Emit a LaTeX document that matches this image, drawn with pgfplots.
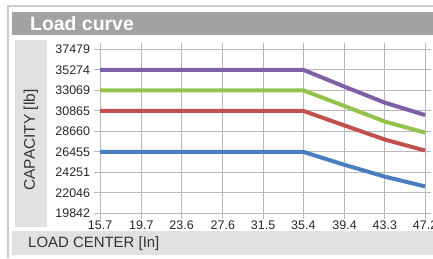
\documentclass[border=0pt]{standalone}
\usepackage{pgfplots}
\pgfplotsset{compat=1.18}
\usepackage{fontspec}
\setmainfont{Liberation Sans}
\definecolor{cpurple}{HTML}{7E60A8}
\definecolor{cgreen}{HTML}{93C14C}
\definecolor{cred}{HTML}{C2504D}
\definecolor{cblue}{HTML}{4A7EC0}
\definecolor{titlegray}{HTML}{A2A2A2}
\definecolor{panelgray}{HTML}{E1E1E1}
\definecolor{gridgray}{HTML}{B8B8B8}
\begin{document}
\begin{tikzpicture}[x=1bp,y=1bp]
\useasboundingbox (0,0) rectangle (433,258);
% outer frame
\draw[gray!40, line width=1.5bp] (8,0) -- (8,252) -- (433,252);
% title bar
\fill[titlegray] (12,223) rectangle (433,246);
\node[anchor=west, text=white, font=\bfseries\fontsize{19.5}{20}\selectfont, inner sep=0pt] at (30,234.5) {Load curve};
% left panel
\fill[panelgray] (15,31) rectangle (47,218);
\node[rotate=90, font=\fontsize{15.5}{16}\selectfont, text=black!80] at (31,118) {CAPACITY [lb]};
% bottom panel
\fill[panelgray] (12,3) rectangle (433,27);
\node[anchor=west, font=\fontsize{15}{16}\selectfont, text=black!80, inner sep=0pt] at (28,14.5) {LOAD CENTER [In]};
\begin{axis}[
  at={(97,48)}, anchor=south west,
  scale only axis, width=325bp, height=164bp,
  xmin=15.7, xmax=47.2, ymin=19842, ymax=37479,
  xtick={15.7,19.7,23.6,27.6,31.5,35.4,39.4,43.3,47.2},
  xticklabels={15.7,19.7,23.6,27.6,31.5,35.4,39.4,43.3,47.2},
  ytick={19842,22046,24251,26455,28660,30865,33069,35274,37479},
  yticklabels={19842,22046,24251,26455,28660,30865,33069,35274,37479},
  scaled ticks=false,
  grid=major,
  grid style={gridgray, line width=0.8bp},
  axis line style={gridgray, line width=0.8bp},
  tick style={gridgray, line width=0.8bp},
  tick align=outside,
  major tick length=6bp,
  ticklabel style={font=\fontsize{12.5}{13}\selectfont, text=black!85},
  xticklabel style={yshift=2bp},
  yticklabel style={xshift=-0.5bp},
  clip=false,
]
\addplot[cblue, line width=4bp, line join=round] coordinates {(15.7,26455) (35.4,26455) (39.4,25060) (43.3,23790) (47.2,22740)};
\addplot[cred, line width=4bp, line join=round] coordinates {(15.7,30865) (35.4,30865) (39.4,29290) (43.3,27780) (47.2,26600)};
\addplot[cgreen, line width=4bp, line join=round] coordinates {(15.7,33069) (35.4,33069) (39.4,31382) (43.3,29720) (47.2,28520)};
\addplot[cpurple, line width=4bp, line join=round] coordinates {(15.7,35274) (35.4,35274) (39.4,33468) (43.3,31747) (47.2,30414)};
\end{axis}
\end{tikzpicture}
\end{document}
